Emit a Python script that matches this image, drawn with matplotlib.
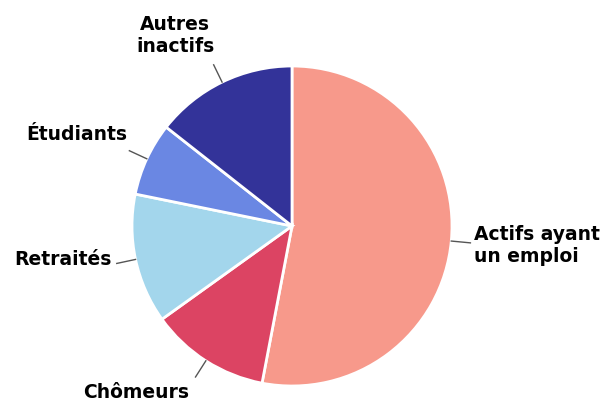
import matplotlib
matplotlib.use("Agg")
import matplotlib.pyplot as plt
import numpy as np

categories = ["Actifs ayant\nun emploi", "Chômeurs", "Retraités", "Étudiants", "Autres\ninactifs"]
values = [53.0, 12.1, 13.1, 7.4, 14.4]
colors = ["#F7998B", "#DC4463", "#A3D6EC", "#6A87E3", "#333399"]

# label placement (data units, pie radius = 1)
label_pos = [(1.14, -0.12), (-0.975, -1.04), (-1.125, -0.21), (-1.03, 0.57), (-0.73, 1.19)]
label_ha = ["left", "center", "right", "right", "center"]

fig = plt.figure(figsize=(6.08, 4.03), dpi=100)
ax = fig.add_axes([0, 0, 1, 1])
wedges, _ = ax.pie(values, colors=colors, startangle=90, counterclock=False,
                   wedgeprops=dict(edgecolor="white", linewidth=2))
ax.set_xlim(-292 / 160, (608 - 292) / 160)
ax.set_ylim(-(403 - 226) / 160, 226 / 160)
ax.set_aspect("auto")
ax.axis("off")

for w, lab, pos, ha in zip(wedges, categories, label_pos, label_ha):
    ang = np.deg2rad((w.theta1 + w.theta2) / 2)
    r0, r1 = 1.0, 1.12
    ax.plot([r0 * np.cos(ang), r1 * np.cos(ang)], [r0 * np.sin(ang), r1 * np.sin(ang)],
            color="#555555", lw=1)
    ax.text(pos[0], pos[1], lab, ha=ha, va="center", fontsize=13.5, fontweight="bold",
            family="DejaVu Sans", linespacing=1.22, color="black")

fig.savefig("out.png", dpi=100)
